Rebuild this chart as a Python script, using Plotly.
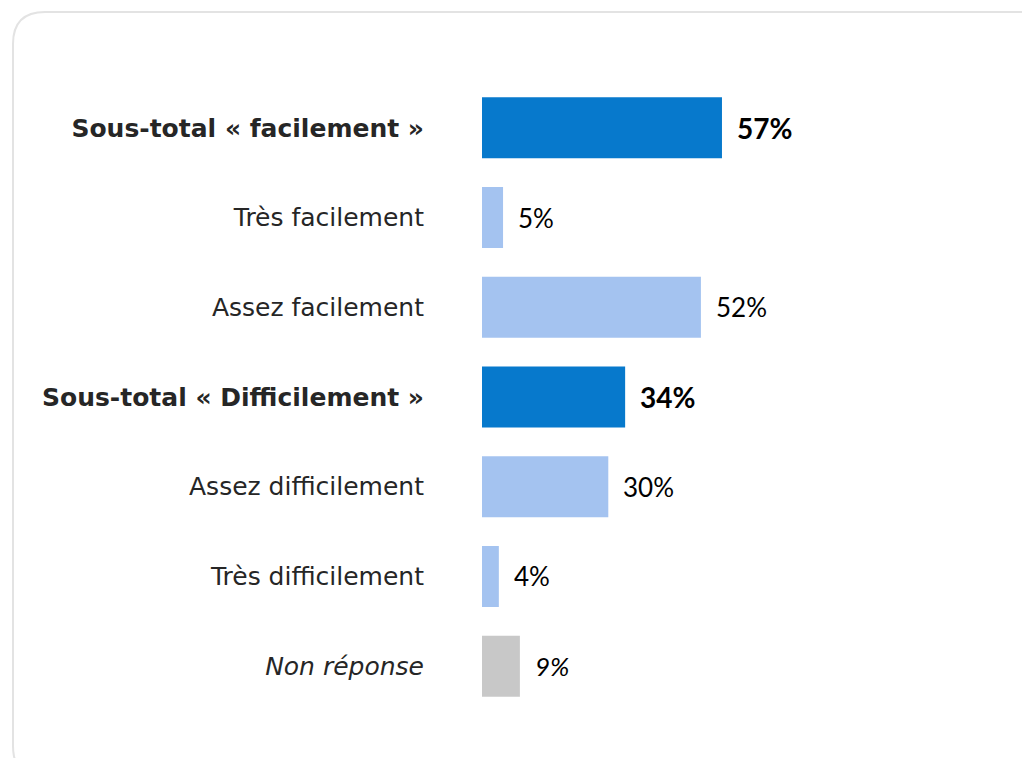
import plotly.graph_objects as go

# Données
categories = [
    "Sous-total « facilement »",
    "Très facilement",
    "Assez facilement",
    "Sous-total « Difficilement »",
    "Assez difficilement",
    "Très difficilement",
    "Non réponse",
]
valeurs = [57, 5, 52, 34, 30, 4, 9]
styles = ["bold", "normal", "normal", "bold", "normal", "normal", "italic"]

couleurs_style = {"bold": "#0779cc", "normal": "#a4c3f0", "italic": "#c8c8c8"}
couleurs = [couleurs_style[s] for s in styles]
taille_valeur = {"bold": 28, "normal": 26, "italic": 26}


def fmt(txt, style):
    if style == "bold":
        return f"<b>{txt}</b>"
    if style == "italic":
        return f"<i>{txt}</i>"
    return txt


# la page ajoute une marge de 8px autour du graphique
W, H = 1030, 758
L, R, T, B = 474, 38, 75, 55
pw, ph = W - L - R, H - T - B

fig = go.Figure()
fig.add_trace(go.Bar(
    x=valeurs,
    y=categories,
    orientation="h",
    marker=dict(color=couleurs, line=dict(width=0)),
    hoverinfo="skip",
))

# Étiquettes de valeur
for cat, val, st in zip(categories, valeurs, styles):
    fig.add_annotation(
        x=val, y=cat, text=fmt(f"{val}%", st),
        xanchor="left", yanchor="middle", xshift=13, yshift=0,
        showarrow=False,
        font=dict(family="Lato", size=taille_valeur[st], color="#000000"),
    )

# Cadre arrondi (coordonnées px -> paper)
def px(x):
    return (x - L) / pw


def py(y):
    return (H - B - y) / ph


x0, y0, x1, y1, r = 5, 4, 1045, 770, 32
path = (
    f"M {px(x0 + r)},{py(y0)} L {px(x1 - r)},{py(y0)} "
    f"Q {px(x1)},{py(y0)} {px(x1)},{py(y0 + r)} L {px(x1)},{py(y1 - r)} "
    f"Q {px(x1)},{py(y1)} {px(x1 - r)},{py(y1)} L {px(x0 + r)},{py(y1)} "
    f"Q {px(x0)},{py(y1)} {px(x0)},{py(y1 - r)} L {px(x0)},{py(y0 + r)} "
    f"Q {px(x0)},{py(y0)} {px(x0 + r)},{py(y0)} Z"
)
fig.add_shape(type="path", xref="paper", yref="paper", path=path,
              line=dict(color="#e3e3e3", width=2), layer="below")

fig.update_layout(
    width=W, height=H,
    paper_bgcolor="white",
    plot_bgcolor="white",
    margin=dict(l=L, r=R, t=T, b=B),
    bargap=0.32,
    showlegend=False,
    xaxis=dict(range=[0, pw / 4.21], visible=False, fixedrange=True),
    yaxis=dict(
        autorange="reversed",
        tickmode="array",
        tickvals=categories,
        ticktext=[fmt(c, s) for c, s in zip(categories, styles)],
        tickfont=dict(family="DejaVu Sans", size=25, color="#262626"),
        ticklabelstandoff=57,
        showline=False, showgrid=False, zeroline=False, ticks="",
        fixedrange=True,
    ),
)

fig.write_html("out.html")
